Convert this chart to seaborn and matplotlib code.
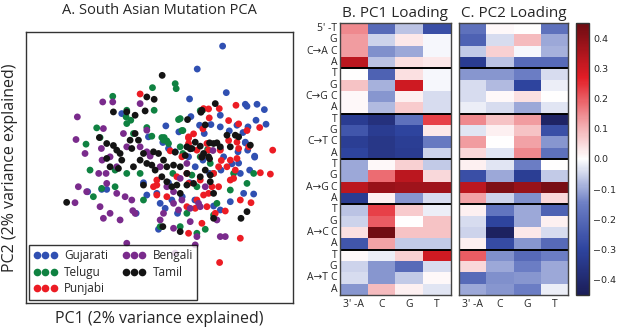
import numpy as np
import pandas as pd
import matplotlib
matplotlib.use("Agg")
import matplotlib.pyplot as plt
import seaborn as sns
from matplotlib.colors import LinearSegmentedColormap
from matplotlib.lines import Line2D

# ---------------- data ----------------
populations = ["Gujarati", "Telugu", "Punjabi", "Bengali", "Tamil"]
pop_colors = ["#3050b2", "#0f8241", "#ec1c24", "#7a2b8c", "#141414"]

gujarati_pc1 = [1.89, 1.13, 2.00, 0.90, -1.13, 2.62, 2.92, 3.14, 2.57, 1.82, 0.94, 1.20, 0.19, 1.54, 1.82,
                2.09, 2.89, 3.19, 2.65, 2.32, 0.58, 1.34, 2.50, 0.10, 0.27, -0.33, 0.47, 2.35, 2.57, 2.85,
                2.64, 1.92, 1.30, 2.70, 2.42, 1.84, 1.50, 0.27, 0.90, -2.15, -1.73, -1.58, -0.38, -0.48,
                -0.08, 0.02, 0.68, 0.37, 1.82, 1.06, 2.52, 2.82, -0.70, -0.03, 0.54, 0.17, 1.62, 2.12, 0.87, 1.07,
                2.57, 1.82, 2.85, 2.17, 2.37]
gujarati_pc2 = [3.65, 2.96, 2.25, 2.06, 1.62, 1.84, 1.90, 1.74, 1.90, 1.57, 1.53, 1.27, 1.25, 1.29, 1.22,
                1.10, 1.42, 1.30, 1.22, 1.27, 1.07, 1.02, 1.05, 0.75, 0.57, 0.92, 0.47, 0.47, 0.74, 0.34,
                0.52, 0.32, 0.22, -0.08, -0.18, -0.08, -0.18, -0.46, -0.46, -0.73, -0.66, -0.66, -0.83, -0.46,
                -0.78, -1.08, -0.88, -0.98, -1.28, -0.98, -0.78, -0.80, -1.38, -1.86, -1.38, -1.23, -1.16, -1.03, 0.32, 0.02,
                0.76, 0.56, 0.31, 0.11, 0.13]

telugu_pc1 = [-1.40, -0.21, 0.47, 0.50, -0.98, -1.00, -0.16, -1.88, -2.20, -1.78, -0.98, -0.38, -0.23, 0.07,
              0.14, 0.27, 0.62, 0.70, 1.22, 1.29, 0.62, -2.08, -1.73, -1.98, -1.33, -0.48, -1.33, 1.22, 1.62,
              2.12, 2.62, 2.82, 2.22, 1.44, 0.97, 1.12, 0.62, 1.12, 1.37, 1.62, 1.72, 0.82, 0.02, -0.98,
              -0.58, 0.40, 1.52, 0.70, -0.78, -0.86, 0.57, 0.67, 0.12, 0.22]
telugu_pc2 = [2.14, 2.40, 2.52, 2.37, 1.72, 1.52, 1.72, 1.19, 0.70, 0.90, 1.32, 1.20, 0.94, 0.90,
              0.90, 0.72, 1.47, 1.11, 1.71, 1.72, 0.62, -0.08, -0.63, -0.88, -0.08, -0.98, -0.58, 0.32, -0.18,
              -0.68, -0.48, -0.18, -0.18, 0.54, -0.23, -0.58, -1.78, -1.98, -1.86, -1.43, -1.08, -1.38, -1.78, -0.18,
              -0.18, -0.18, 0.12, 0.42, 1.02, 1.42, 1.44, 1.11, 0.82, 0.80]

punjabi_pc1 = [-0.58, 1.32, 1.49, 2.29, 1.79, 0.87, 0.87, 0.32, 0.67, 1.12, 1.27, 1.47, 1.42, 1.82, 2.32,
               2.37, 2.67, 3.39, 3.02, 3.32, 2.12, 2.02, 1.62, 1.22, 0.82, 0.52, -0.08, -0.18, 0.22, -0.08,
               1.12, 1.32, 1.47, 1.77, 2.22, 2.27, 1.77, 2.42, 2.74, 1.97, 1.42, 1.67, 0.82, 0.87, 1.27,
               2.42, 1.80, 1.07, -0.08, 0.87, 1.57, 2.12, 2.62, 3.00, 2.37, 2.07, 1.30, 1.47, 0.87, 1.02,
               2.32, 2.07, 1.85]
punjabi_pc2 = [2.21, 1.77, 1.49, 1.87, 1.77, 0.92, 0.72, 0.50, 0.32, 0.52, 0.32, 0.52, 0.72, 0.52, 0.27,
               0.57, 0.62, 0.52, -0.16, -0.20, 0.22, 0.02, -0.18, -0.38, -0.18, -0.28, -0.53, -0.58, -0.88, -0.83,
               -0.98, -0.83, -0.78, -0.58, -0.33, -0.08, 0.02, -0.98, -1.06, -1.31, -1.18, -1.38, -1.18, -1.98, -1.68,
               -2.13, -2.86, -1.23, -0.38, -0.48, -0.58, -0.38, 1.11, 1.20, 1.31, 1.41, 1.16, 1.76, 0.88, 1.01,
               0.76, 0.81, 0.21]

bengali_pc1 = [-2.46, -2.50, -1.70, -1.40, -1.68, -1.08, -0.58, -0.38, -2.23, -1.74, -1.60, -1.82, -1.72, -1.48,
               -2.18, -2.43, -2.53, -1.58, -1.28, -1.03, -0.83, -1.68, -1.48, -1.18, -0.80, -0.73, -1.78, -0.98,
               -0.58, -0.98, -0.28, 0.02, 0.22, 0.42, 0.42, 0.57, 0.12, 0.02, 0.42, 0.67, 0.92, 1.17, 0.92,
               1.12, 1.22, 1.72, 1.82, 1.97, 1.07, 0.62, 0.82, 1.37, 0.47, -0.38, -1.28, 1.60]
bengali_pc2 = [1.52, 0.84, 1.97, 1.97, 1.17, 1.02, 1.92, 1.12, 0.42, 0.57, -0.18, -0.18, 0.22, 0.32,
               -0.73, -0.58, -1.06, -0.48, -0.78, -0.88, -0.98, -1.53, -1.38, -1.58, -1.30, -1.38, -1.18, -2.28,
               0.62, 0.62, 0.34, 0.02, -0.58, -0.73, -1.08, -1.28, -1.38, -1.58, -1.83, -0.98, -1.23, -1.08, -1.63,
               -2.08, -1.18, -1.58, -2.08, -2.08, -2.33, -0.33, 0.12, -0.58, -2.58, 0.47, 0.02, 0.51]

tamil_pc1 = [0.08, 1.67, 1.27, -1.38, -0.98, -0.73, -0.38, -0.16, -0.43, -1.80, -1.58, -1.38, -1.28, -1.18,
             -0.88, -0.73, -0.63, -0.83, -0.48, -0.18, -0.03, 0.12, 0.22, 0.42, 0.62, 0.82, 0.97, 1.22, 1.32,
             1.47, 1.62, 1.82, 2.02, 2.27, 2.37, 2.12, 2.72, -1.58, -1.48, -1.23, -1.13, -0.78, -0.58, -0.38,
             -0.23, -0.13, 0.07, 0.22, 0.37, 0.52, 0.62, 0.82, 1.02, 1.22, 1.37, 1.52, 1.62, 0.82, -2.78,
             2.62, 2.44, 1.62, 0.10, 0.62, -0.48, 1.52, 1.24, 1.37, 0.84, 1.50, 1.72, 0.92, 1.07, 0.47, 0.77,
             1.27, 1.50]
tamil_pc2 = [2.77, 1.92, 1.72, 1.67, 1.67, 1.57, 2.12, 2.05, 1.70, 0.90, 0.72, 0.66, 0.52, 0.42,
             0.82, 1.02, 0.82, 0.57, 0.42, 0.47, 0.42, 0.22, 0.02, 0.07, 0.02, 0.62, 0.57, 0.64, 0.42,
             0.32, 0.72, 0.62, 0.97, 0.97, 0.92, 0.62, 0.67, 0.27, 0.02, -0.03, 0.22, 0.02, 0.22, 0.12,
             0.07, -0.08, -0.28, -0.43, -0.58, -0.53, -0.78, -0.53, -0.48, -0.28, -0.08, -0.43, -0.78, -0.18, -1.05,
             -1.33, -1.53, -1.53, -1.78, -1.93, -0.53, -0.23, 1.66, 1.28, 1.44, 0.74, 0.74, 0.56, 0.76, 0.46, 0.36,
             0.31, 0.26]

mutation_types = ["C\u2192A", "C\u2192G", "C\u2192T", "A\u2192G", "A\u2192C", "A\u2192T"]
five_prime = ["T", "G", "C", "A"]
three_prime = ["3' -A", "C", "G", "T"]

# rows: mutation type x 5' base (T,G,C,A); columns: 3' base (A,C,G,T)
pc1_loading = [
    [0.15, -0.20, -0.07, -0.27],
    [0.13, -0.05, 0.03, -0.01],
    [0.13, -0.13, -0.10, -0.01],
    [0.33, -0.07, 0.04, 0.03],
    [0.00, -0.22, 0.04, -0.01],
    [0.08, -0.09, 0.30, -0.01],
    [0.01, -0.12, 0.02, -0.04],
    [0.01, -0.08, 0.07, -0.04],
    [-0.33, -0.37, -0.18, 0.23],
    [-0.25, -0.33, -0.30, 0.03],
    [-0.32, -0.35, -0.32, -0.16],
    [-0.30, -0.35, -0.33, -0.05],
    [-0.10, 0.01, 0.06, -0.06],
    [-0.10, 0.18, 0.33, 0.05],
    [0.33, 0.38, 0.37, 0.37],
    [-0.33, 0.02, -0.12, -0.04],
    [-0.07, 0.23, 0.07, -0.02],
    [-0.05, 0.20, 0.00, 0.08],
    [0.04, 0.44, 0.08, 0.08],
    [-0.25, 0.12, -0.06, -0.06],
    [0.01, -0.02, 0.06, 0.30],
    [-0.05, -0.12, -0.20, -0.04],
    [-0.04, -0.12, -0.06, 0.01],
    [-0.12, 0.09, 0.02, -0.03],
]
pc2_loading = [
    [-0.18, 0.01, 0.00, -0.18],
    [-0.22, -0.04, 0.09, -0.10],
    [-0.06, 0.06, -0.01, -0.09],
    [-0.33, -0.07, -0.20, -0.20],
    [-0.12, -0.12, -0.15, -0.04],
    [-0.04, -0.08, -0.30, -0.02],
    [-0.04, 0.01, 0.04, 0.00],
    [-0.02, -0.04, -0.10, -0.03],
    [0.15, 0.08, 0.13, -0.42],
    [-0.03, 0.02, 0.08, -0.27],
    [0.13, 0.00, 0.12, -0.12],
    [0.05, -0.03, 0.15, -0.18],
    [0.02, -0.03, -0.15, 0.00],
    [-0.27, -0.10, -0.32, -0.06],
    [0.33, 0.42, 0.38, 0.43],
    [0.12, -0.05, -0.13, 0.05],
    [0.02, -0.17, -0.10, -0.22],
    [-0.04, -0.30, -0.10, 0.02],
    [-0.05, -0.43, 0.03, -0.04],
    [0.02, -0.28, -0.12, -0.20],
    [0.20, -0.13, -0.20, -0.15],
    [0.05, -0.10, -0.15, -0.10],
    [-0.20, -0.13, -0.12, -0.10],
    [-0.10, -0.12, -0.15, -0.02],
]
cbar_ticks = [0.4, 0.3, 0.2, 0.1, 0.0, -0.1, -0.2, -0.3, -0.4]

# ---------------- style ----------------
sns.set_theme(style="white")
plt.rcParams["font.family"] = ["Open Sans", "DejaVu Sans"]
plt.rcParams["axes.unicode_minus"] = True

fig = plt.figure(figsize=(6.17, 3.28), dpi=100)

# ---------------- scatter ----------------
pc1_all, pc2_all, pop_all = [], [], []
for name, xs, ys in zip(populations,
                        [gujarati_pc1, telugu_pc1, punjabi_pc1, bengali_pc1, tamil_pc1],
                        [gujarati_pc2, telugu_pc2, punjabi_pc2, bengali_pc2, tamil_pc2]):
    pc1_all += xs
    pc2_all += ys
    pop_all += [name] * len(xs)
df = pd.DataFrame({"PC1": pc1_all, "PC2": pc2_all, "Population": pop_all})

ax = fig.add_axes([0.042, 0.076, 0.433, 0.826])
sns.scatterplot(data=df, x="PC1", y="PC2", hue="Population", hue_order=populations,
                palette=dict(zip(populations, pop_colors)), s=24, linewidth=0,
                legend=False, ax=ax)
ax.set_xlim(-4.0, 4.0)
ax.set_ylim(-4.08, 4.07)
ax.set_xticks([])
ax.set_yticks([])
ax.set_xlabel("PC1 (2% variance explained)", fontsize=11.5, labelpad=6)
ax.set_ylabel("PC2 (2% variance explained)", fontsize=11.5, labelpad=6)
ax.set_title("A. South Asian Mutation PCA", fontsize=10.5, pad=13)
for sp in ax.spines.values():
    sp.set_visible(True)
    sp.set_color("#333333")
    sp.set_linewidth(1.0)
handles = [Line2D([], [], marker="o", ls="", color=c, markersize=5.5, markeredgewidth=0)
           for c in pop_colors]
leg = ax.legend(handles, populations, loc="lower left", ncol=2, numpoints=3,
                fontsize=8.5, frameon=True, fancybox=False, borderaxespad=0.3,
                handletextpad=0.6, columnspacing=1.2, handlelength=2.0,
                borderpad=0.35, labelspacing=0.3)
leg.get_frame().set_edgecolor("black")
leg.get_frame().set_linewidth(1.0)

# ---------------- heatmaps ----------------
cmap = LinearSegmentedColormap.from_list("loading", [
    (0.0, "#1b1d58"), (0.1667, "#2e449f"), (0.333, "#6b7dc4"), (0.5, "#ffffff"),
    (0.633, "#f2a4a8"), (0.8, "#e31d26"), (1.0, "#6c0c12")])

row_labels = []
for m in mutation_types:
    for b in five_prime:
        row_labels.append(b)
row_labels[0] = "5' -T"

axB = fig.add_axes([0.551, 0.101, 0.180, 0.829])
axC = fig.add_axes([0.744, 0.101, 0.177, 0.829])
cax = fig.add_axes([0.934, 0.101, 0.021, 0.829])

for a, data, title, show_left in [(axB, pc1_loading, "B. PC1 Loading", True),
                                  (axC, pc2_loading, "C. PC2 Loading", False)]:
    dfh = pd.DataFrame(data, index=range(len(data)), columns=three_prime)
    sns.heatmap(dfh, ax=a, cmap=cmap, vmin=-0.45, vmax=0.45,
                cbar=(a is axC), cbar_ax=cax if a is axC else None,
                xticklabels=three_prime, yticklabels=row_labels)
    a.set_title(title, fontsize=11, pad=4)
    for yy in range(4, len(data), 4):
        a.axhline(yy, color="black", lw=1.4)
    for sp in a.spines.values():
        sp.set_visible(True)
        sp.set_color("#444444")
        sp.set_linewidth(1.0)
    a.tick_params(axis="both", which="major", direction="in", length=2.5, width=0.6,
                  color="#555555", top=True, bottom=True, left=True, right=True)
    a.tick_params(axis="x", labelsize=7.5, pad=3, rotation=0)
    a.tick_params(axis="y", labelsize=7.5, pad=2, rotation=0, labelleft=show_left)
    a.set_xlabel("")
    a.set_ylabel("")
    if show_left:
        for k, m in enumerate(mutation_types):
            a.text(-0.42, 4 * k + 2.5, m, ha="right", va="center", fontsize=7.5,
                   family=["Open Sans", "DejaVu Sans"])

cb = axC.collections[0].colorbar
cb.set_ticks(cbar_ticks)
cb.ax.tick_params(labelsize=6.8, length=2.5, width=0.6, direction="in", pad=3)
for lab in cb.ax.get_yticklabels():
    lab.set_family("DejaVu Sans")
cb.outline.set_visible(True)
cb.outline.set_edgecolor("#333333")
cb.outline.set_linewidth(1.0)

fig.savefig("out.png", dpi=100)
